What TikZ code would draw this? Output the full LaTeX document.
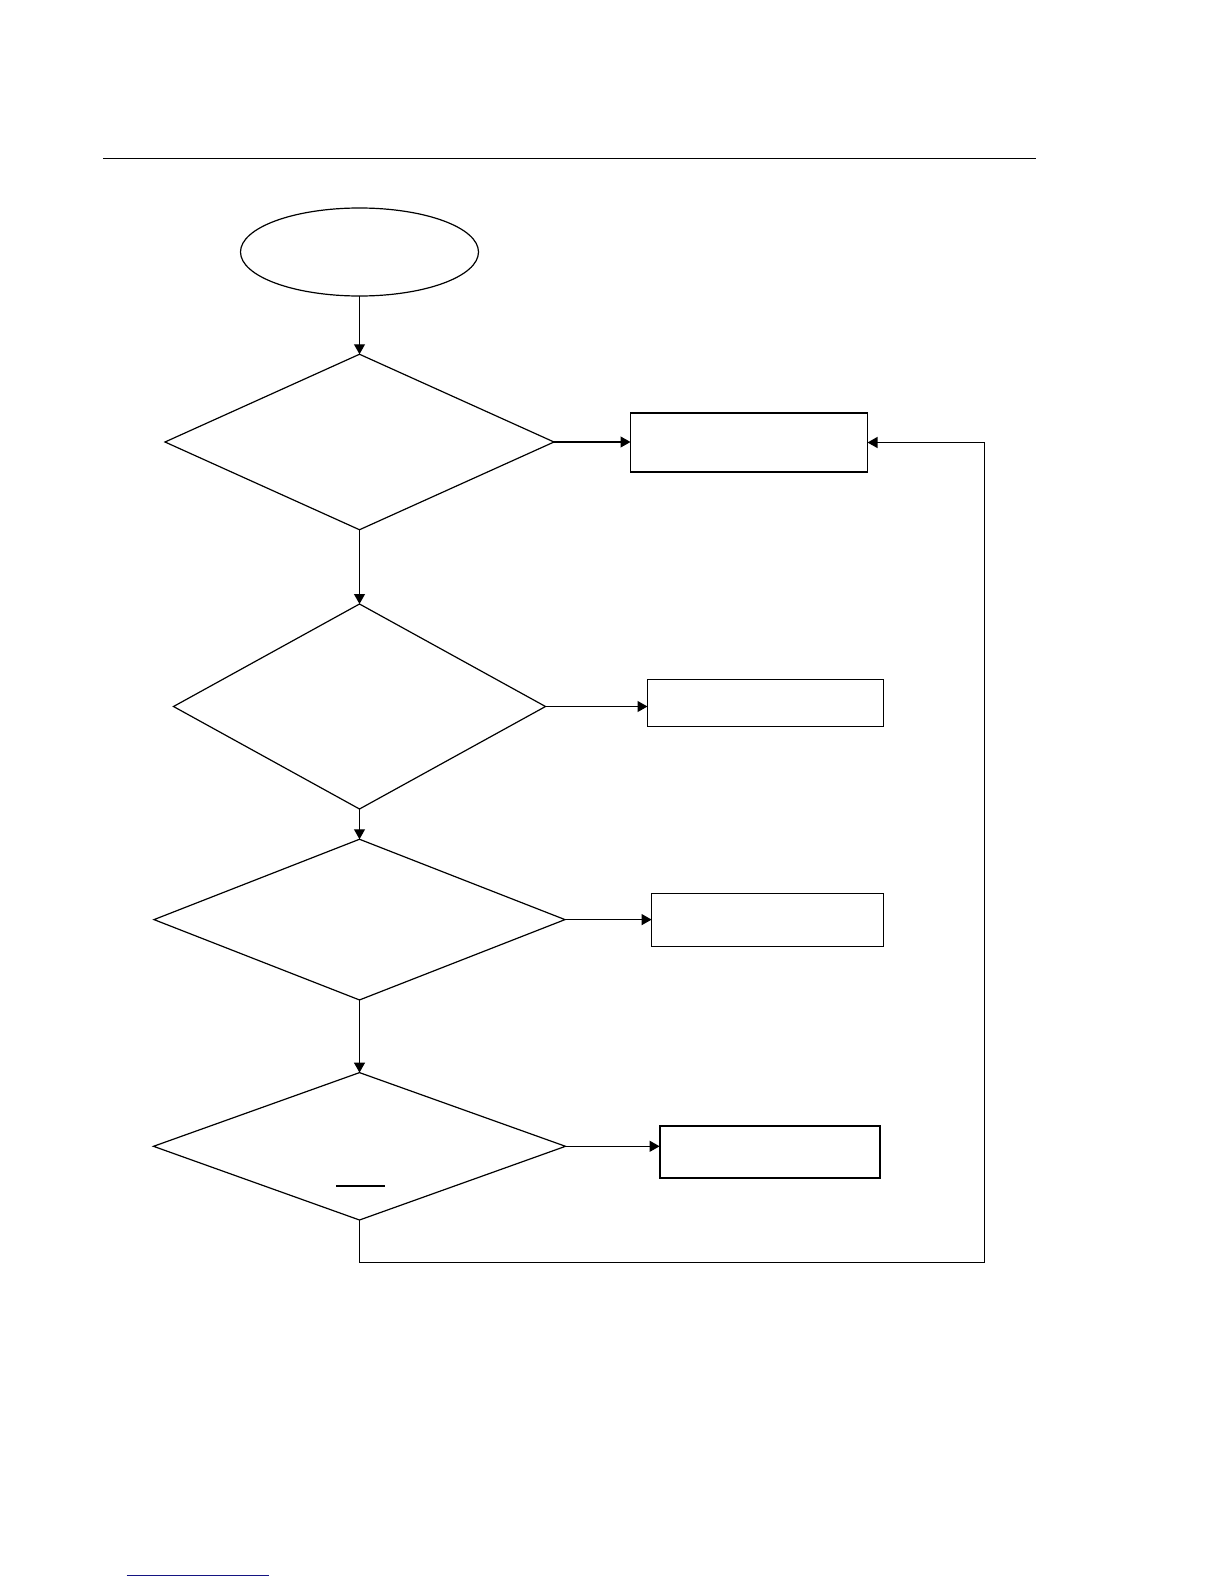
\documentclass[tikz,border=0pt]{standalone}
\usetikzlibrary{shapes.geometric,arrows.meta}
\begin{document}
\begin{tikzpicture}[x=1pt,y=-1pt,
  line width=1.2pt,
  dia/.style={draw,diamond,inner sep=0pt,outer sep=0pt},
  boxx/.style={draw,rectangle,inner sep=0pt,outer sep=0pt},
  ovl/.style={draw,ellipse,inner sep=0pt,outer sep=0pt,minimum width=238pt,minimum height=88pt},
  arr/.style={-{Triangle[length=10pt,width=11pt]}}]
\useasboundingbox (0,0) rectangle (1224,1584);
\draw (103,158.5) -- (1036,158.5);
\node[ovl] (start) at (359.5,252) {};
\node[dia,minimum width=389pt,minimum height=175.5pt] (d1) at (359.5,442) {};
\node[dia,minimum width=372pt,minimum height=205pt] (d2) at (359.5,706.5) {};
\node[dia,minimum width=411pt,minimum height=160.7pt] (d3) at (359.5,919.6) {};
\node[dia,minimum width=412pt,minimum height=147.4pt] (d4) at (359.5,1146.3) {};
\node[boxx,minimum width=237pt,minimum height=59pt] (b1) at (749,442.5) {};
\node[boxx,minimum width=236pt,minimum height=46.5pt] (b2) at (765.5,703) {};
\node[boxx,minimum width=232pt,minimum height=52.5pt] (b3) at (767.6,920) {};
\node[boxx,line width=2.2pt,minimum width=220pt,minimum height=51.7pt] (b4) at (769.6,1152) {};
\draw[arr] (start.south) -- (d1.north);
\draw[arr] (d1.east) -- (b1.west |- d1.east);
\draw[arr] (d1.south) -- (d2.north);
\draw[arr] (d2.east) -- (b2.west |- d2.east);
\draw[arr] (d2.south) -- (d3.north);
\draw[arr] (d3.east) -- (b3.west |- d3.east);
\draw[arr] (d3.south) -- (d4.north);
\draw[arr] (d4.east) -- (b4.west |- d4.east);
\coordinate (fb) at (984.7,1262.5);
\draw[arr] (d4.south) |- (fb) |- (b1.east);
\coordinate (ula) at (336,1186);
\coordinate (ulb) at (384.7,1186);
\draw (ula) -- (ulb);
\definecolor{linkblue}{RGB}{20,20,130}
\coordinate (bla) at (126.7,1575);
\coordinate (blb) at (269,1575);
\draw[linkblue,line width=1pt] (bla) -- (blb);
\end{tikzpicture}
\end{document}
